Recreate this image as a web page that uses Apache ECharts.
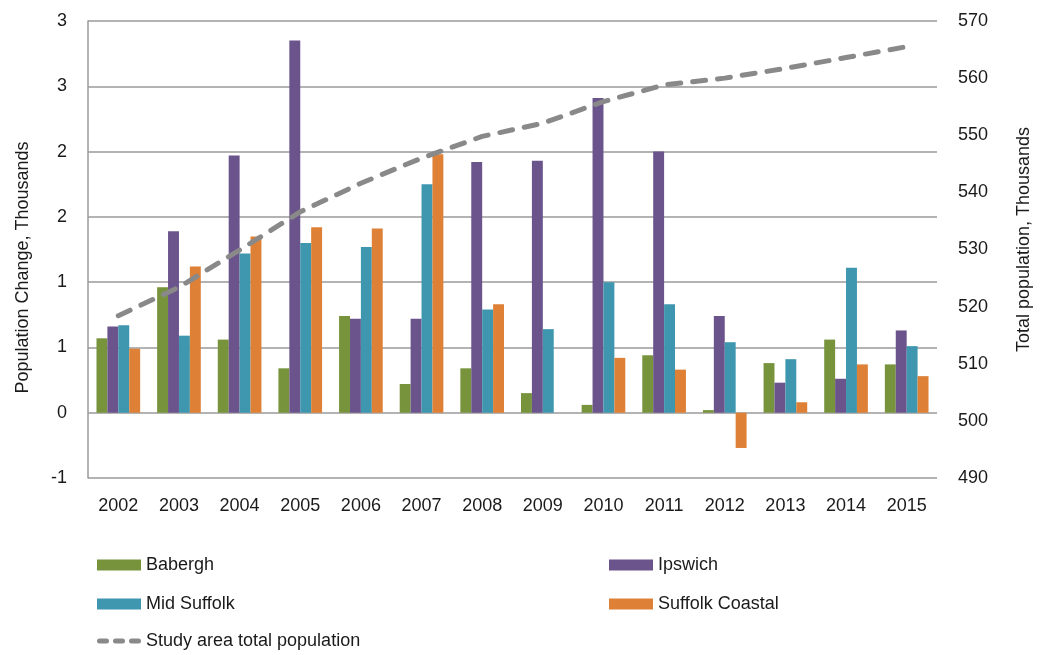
<!DOCTYPE html>
<html>
<head>
<meta charset="utf-8">
<script src="https://cdn.jsdelivr.net/npm/echarts@6/dist/echarts.min.js"></script>
<style>
  html, body { margin: 0; padding: 0; background: #fff; }
  #chart { width: 1041px; height: 655px; }
</style>
</head>
<body>
<div id="chart"></div>
<script>
// Annual population change by district (thousands) and study-area total (thousands)
const years = ['2002','2003','2004','2005','2006','2007','2008','2009','2010','2011','2012','2013','2014','2015'];
const babergh        = [0.57, 0.96, 0.56, 0.34, 0.74, 0.22, 0.34, 0.15, 0.06, 0.44, 0.02, 0.38, 0.56, 0.37];
const ipswich        = [0.66, 1.39, 1.97, 2.85, 0.72, 0.72, 1.92, 1.93, 2.41, 2.00, 0.74, 0.23, 0.26, 0.63];
const midSuffolk     = [0.67, 0.59, 1.22, 1.30, 1.27, 1.75, 0.79, 0.64, 1.00, 0.83, 0.54, 0.41, 1.11, 0.51];
const suffolkCoastal = [0.49, 1.12, 1.35, 1.42, 1.41, 1.98, 0.83, 0.00, 0.42, 0.33, -0.27, 0.08, 0.37, 0.28];
const totalPopulation = [518.4, 523.4, 529.9, 536.6, 541.6, 546.0, 549.8, 552.1, 555.9, 558.8, 560.0, 561.7, 563.6, 565.5];

const FONT = '"Liberation Sans", Arial, sans-serif';
const TEXT = '#1a1a1a';
const GRID = '#9a9a9a';
const LINE = '#898989';

// Excel-style whole-number labels (halves rounded away from zero)
const roundAway = v => (v < 0 ? -Math.round(-v) : Math.round(v));

// three rounded dashes for the total-population legend key
const pill = x => `M${x + 2.5},0 H${x + 9.5} A2.5,2.5 0 0 1 ${x + 9.5},5 H${x + 2.5} A2.5,2.5 0 0 1 ${x + 2.5},0 Z`;
const dashIcon = 'path://' + pill(0) + ' ' + pill(16) + ' ' + pill(32);

const barSeries = (name, data, color) => ({
  name, type: 'bar', data, yAxisIndex: 0,
  barGap: '0%', barCategoryGap: '28%',
  itemStyle: { color },
  emphasis: { disabled: true }
});

// one legend block per key so each sits in its own row/column
const legendItem = (name, left, top, extra) => Object.assign({
  left, top, itemWidth: 44, itemHeight: 11, itemGap: 6, icon: 'rect',
  textStyle: { fontSize: 18, color: TEXT, fontFamily: FONT },
  data: [name]
}, extra || {});

const chart = echarts.init(document.getElementById('chart'));
chart.setOption({
  animation: false,
  textStyle: { fontFamily: FONT, color: TEXT },
  grid: { left: 88, right: 104, top: 21, bottom: 177 },
  legend: [
    legendItem('Babergh', 92, 551),
    legendItem('Ipswich', 604, 551),
    legendItem('Mid Suffolk', 92, 590),
    legendItem('Suffolk Coastal', 604, 590),
    legendItem('Study area total population', 92, 627, {
      itemHeight: 5,
      data: [{ name: 'Study area total population', icon: dashIcon, itemStyle: { color: LINE } }]
    })
  ],
  xAxis: {
    type: 'category', data: years,
    axisLine: { show: false, onZero: false },
    axisTick: { show: false },
    axisLabel: { fontSize: 18, color: TEXT, margin: 19, fontFamily: FONT }
  },
  yAxis: [
    {
      type: 'value', min: -0.5, max: 3.0, interval: 0.5,
      name: 'Population Change, Thousands', nameLocation: 'middle', nameGap: 56,
      nameTextStyle: { fontSize: 18, color: TEXT, fontFamily: FONT, padding: [0, 36, 0, 0] },
      axisLine: { show: true, lineStyle: { color: GRID, width: 1.5 } },
      axisTick: { show: false },
      axisLabel: { fontSize: 18, color: TEXT, margin: 21, fontFamily: FONT, formatter: roundAway },
      splitLine: { show: true, lineStyle: { color: GRID, width: 1.5 } }
    },
    {
      type: 'value', min: 490, max: 570, interval: 10, position: 'right',
      name: 'Total population, Thousands', nameLocation: 'middle', nameGap: 78, nameRotate: 90,
      nameTextStyle: { fontSize: 18, color: TEXT, fontFamily: FONT, padding: [0, 0, 0, 20] },
      axisLine: { show: false },
      axisTick: { show: false },
      axisLabel: { fontSize: 18, color: TEXT, margin: 21, fontFamily: FONT },
      splitLine: { show: false }
    }
  ],
  series: [
    barSeries('Babergh', babergh, '#77933c'),
    barSeries('Ipswich', ipswich, '#6b538c'),
    barSeries('Mid Suffolk', midSuffolk, '#3e97af'),
    barSeries('Suffolk Coastal', suffolkCoastal, '#de8035'),
    {
      name: 'Study area total population', type: 'line', yAxisIndex: 1,
      data: totalPopulation, symbol: 'none', z: 5,
      lineStyle: { color: LINE, width: 5, type: [13, 12], cap: 'round' },
      itemStyle: { color: LINE },
      emphasis: { disabled: true }
    }
  ]
});
</script>
</body>
</html>
